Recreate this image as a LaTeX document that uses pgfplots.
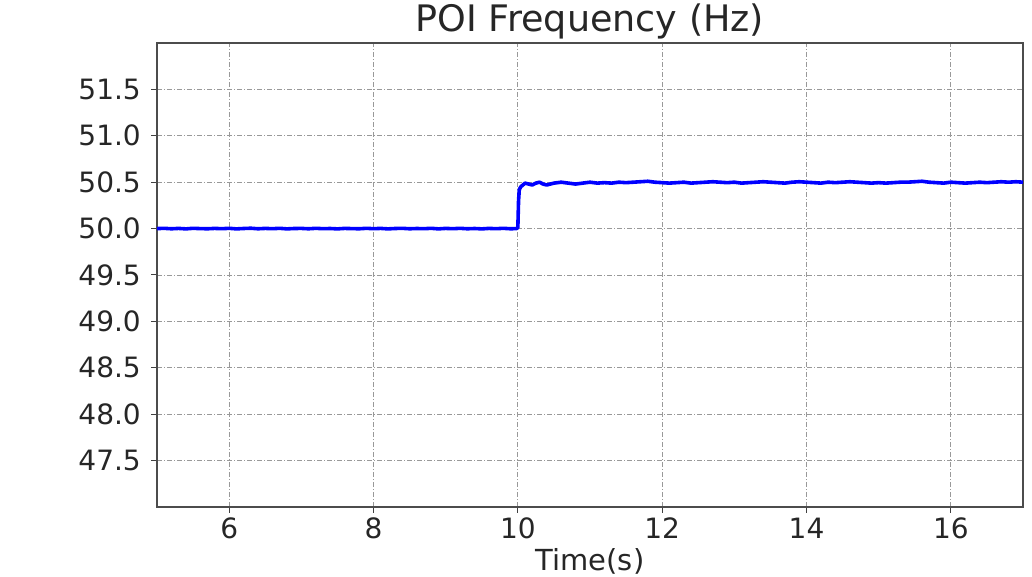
\documentclass[border=0pt]{standalone}
\usepackage{pgfplots}
\pgfplotsset{compat=1.18}
\usepackage{fontspec}
\setmainfont{DejaVu Sans}
\begin{document}
\begin{tikzpicture}
\begin{axis}[
  scale only axis, width=866pt, height=464pt,
  xmin=5, xmax=17, ymin=47, ymax=52,
  clip=false,
  xtick={6,8,10,12,14,16},
  ytick={47.5,48,48.5,49,49.5,50,50.5,51,51.5},
  yticklabel style={/pgf/number format/fixed, /pgf/number format/fixed zerofill, /pgf/number format/precision=1},
  /pgf/number format/assume math mode=true,
  tick align=outside, major tick length=6pt,
  tick style={black!75, line width=1pt},
  xtick pos=bottom, ytick pos=left,
  axis line style={black!70, line width=1.5pt},
  grid=major,
  major grid style={gray!80, dash pattern=on 5pt off 2pt on 1pt off 2pt, line width=0.9pt},
  ticklabel style={font=\fontsize{28}{30}\selectfont, text=black!85},
  xticklabel style={inner sep=0pt, anchor=north, yshift=-5pt},
  yticklabel style={inner sep=0pt, anchor=east, xshift=-10pt},
  title={POI Frequency (Hz)},
  title style={font=\fontsize{36.5}{40}\selectfont, text=black!85, at={(axis description cs:0.5,1)}, anchor=base, yshift=5pt, inner sep=0pt},
  xlabel={Time(s)},
  xlabel style={font=\fontsize{29}{32}\selectfont, text=black!85, at={(axis description cs:0.5,0)}, anchor=north, yshift=-41pt, inner sep=0pt},
]
\addplot[blue, line width=3.6pt, line join=round] coordinates {
(5.0,50.000)(5.1,50.003)(5.2,49.998)(5.3,50.002)(5.4,49.997)(5.5,50.003)(5.6,50.000)(5.7,49.998)(5.8,50.002)(5.9,49.999)
(6.0,50.003)(6.1,49.997)(6.2,50.001)(6.3,50.004)(6.4,49.998)(6.5,50.002)(6.6,49.999)(6.7,50.003)(6.8,49.997)(6.9,50.001)
(7.0,50.002)(7.1,49.998)(7.2,50.003)(7.3,49.999)(7.4,50.001)(7.5,49.997)(7.6,50.002)(7.7,50.000)(7.8,49.998)(7.9,50.003)
(8.0,49.999)(8.1,50.002)(8.2,49.997)(8.3,50.001)(8.4,50.003)(8.5,49.998)(8.6,50.001)(8.7,49.999)(8.8,50.003)(8.9,49.997)
(9.0,50.002)(9.1,49.999)(9.2,50.003)(9.3,49.998)(9.4,50.001)(9.5,49.997)(9.6,50.002)(9.7,49.999)(9.8,50.003)(9.9,49.998)
(9.98,50.000)(10.0,50.01)(10.01,50.30)(10.02,50.42)(10.04,50.45)(10.07,50.47)(10.1,50.49)(10.15,50.48)(10.2,50.47)(10.25,50.49)
(10.3,50.50)(10.35,50.48)(10.4,50.47)(10.5,50.49)(10.6,50.50)(10.7,50.49)(10.8,50.48)(10.9,50.49)
(11.0,50.50)(11.1,50.49)(11.2,50.495)(11.3,50.49)(11.4,50.50)(11.5,50.495)(11.6,50.50)(11.7,50.505)(11.8,50.51)(11.9,50.50)
(12.0,50.495)(12.1,50.49)(12.2,50.495)(12.3,50.50)(12.4,50.49)(12.5,50.495)(12.6,50.50)(12.7,50.505)(12.8,50.50)(12.9,50.495)
(13.0,50.50)(13.1,50.49)(13.2,50.495)(13.3,50.50)(13.4,50.505)(13.5,50.50)(13.6,50.495)(13.7,50.49)(13.8,50.50)(13.9,50.505)
(14.0,50.50)(14.1,50.495)(14.2,50.49)(14.3,50.50)(14.4,50.495)(14.5,50.50)(14.6,50.505)(14.7,50.50)(14.8,50.495)(14.9,50.49)
(15.0,50.495)(15.1,50.49)(15.2,50.495)(15.3,50.50)(15.4,50.50)(15.5,50.505)(15.6,50.51)(15.7,50.50)(15.8,50.495)(15.9,50.49)
(16.0,50.50)(16.1,50.495)(16.2,50.49)(16.3,50.495)(16.4,50.50)(16.5,50.495)(16.6,50.50)(16.7,50.505)(16.8,50.50)(16.9,50.505)(17.0,50.50)
};
\path ([xshift=-157pt,yshift=-70pt]rel axis cs:0,0) rectangle ([xshift=9pt,yshift=43pt]rel axis cs:1,1);
\end{axis}
\end{tikzpicture}
\end{document}
